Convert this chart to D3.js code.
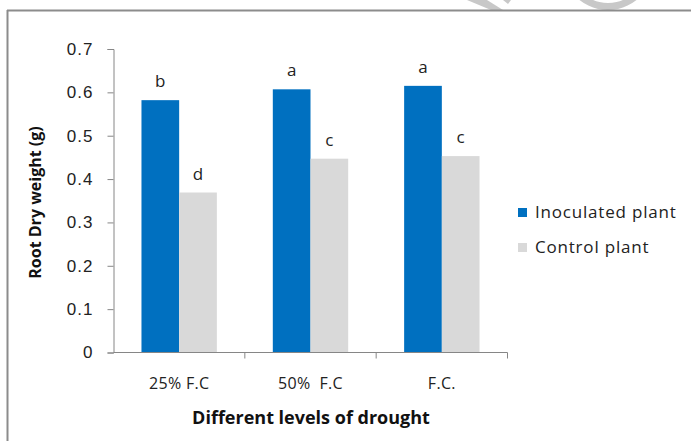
<!DOCTYPE html>
<html>
<head>
<meta charset="utf-8">
<script src="https://cdn.jsdelivr.net/npm/d3@7"></script>
<style>
  html, body { margin: 0; padding: 0; background: #fff; }
  svg { display: block; font-family: "Open Sans", "Liberation Sans", sans-serif; }
</style>
</head>
<body>
<svg id="chart" width="691" height="441"></svg>
<script>
// Root dry weight by drought level
const categories = ["25% F.C", "50%  F.C", "F.C."];
const seriesNames = ["Inoculated plant", "Control plant"];
const inoculated = [0.582, 0.607, 0.615];
const control = [0.369, 0.447, 0.453];
const inoculatedLetters = ["b", "a", "a"];
const controlLetters = ["d", "c", "c"];
const yTicks = [0, 0.1, 0.2, 0.3, 0.4, 0.5, 0.6, 0.7];
const colors = ["#0070C0", "#D9D9D9"];

const rows = categories.map((c, i) => ({
  cat: c,
  vals: [
    { s: seriesNames[0], v: inoculated[i], lab: inoculatedLetters[i] },
    { s: seriesNames[1], v: control[i], lab: controlLetters[i] }
  ]
}));

const svg = d3.select("#chart");
const axisColor = "#868686";

// faint background marks above the frame
const deco = svg.append("g").attr("fill", "#c8c8c8");
deco.append("path").attr("d", "M467,0 L487,0 L503,10 L491,10 Z");
deco.append("path").attr("d", "M503,0 L511,0 L508,4 Z");
deco.append("path")
  .attr("d", d3.arc()({ innerRadius: 38.5, outerRadius: 45.5, startAngle: Math.PI / 2 + 0.68, endAngle: Math.PI * 1.5 - 0.68 }))
  .attr("transform", "translate(608,-35.5)");

// frame
svg.append("line").attr("x1", 7).attr("x2", 691).attr("y1", 10.5).attr("y2", 10.5)
  .attr("stroke", "#8c8c8c").attr("stroke-width", 2);
svg.append("line").attr("x1", 7.5).attr("x2", 7.5).attr("y1", 10).attr("y2", 441)
  .attr("stroke", "#8c8c8c").attr("stroke-width", 2);

const y = d3.scaleLinear().domain([0, 0.7]).range([352.5, 49]);
const x0 = d3.scaleBand().domain(categories).range([113.5, 507.5])
  .paddingInner(0.426).paddingOuter(0.213);
const x1 = d3.scaleBand().domain(seriesNames).range([0, x0.bandwidth()]);

// y axis
const yAxis = svg.append("g").attr("transform", "translate(113.5,0)")
  .call(d3.axisLeft(y).tickValues(yTicks).tickSize(6).tickPadding(14)
    .tickFormat(d => d === 0 ? "0" : d3.format(".1f")(d)));
yAxis.select(".domain").attr("stroke", axisColor);
yAxis.selectAll(".tick line").attr("stroke", axisColor);
yAxis.selectAll("text").attr("font-size", 17).attr("letter-spacing", 1).attr("fill", "#222");

// bars
const groups = svg.append("g").selectAll("g").data(rows).join("g")
  .attr("transform", d => `translate(${x0(d.cat)},0)`);
groups.selectAll("rect").data(d => d.vals).join("rect")
  .attr("x", d => x1(d.s))
  .attr("y", d => y(d.v))
  .attr("width", x1.bandwidth())
  .attr("height", d => y(0) - y(d.v))
  .attr("fill", (d, i) => colors[i]);
groups.selectAll("text").data(d => d.vals).join("text")
  .attr("x", d => x1(d.s) + x1.bandwidth() / 2)
  .attr("y", d => y(d.v) - 13)
  .attr("text-anchor", "middle")
  .attr("font-size", 17)
  .attr("fill", "#222")
  .text(d => d.lab);

// x axis: baseline with ticks between categories
const xAxis = svg.append("g");
xAxis.append("line").attr("x1", 113.5).attr("x2", 507.5).attr("y1", y(0)).attr("y2", y(0))
  .attr("stroke", axisColor);
const step = x0.step();
const bounds = categories.map((c, i) => 113.5 + step * (i + 1));
xAxis.selectAll(".xt").data(bounds).join("line").attr("class", "xt")
  .attr("x1", d => d).attr("x2", d => d).attr("y1", y(0)).attr("y2", y(0) + 6)
  .attr("stroke", axisColor);
xAxis.selectAll(".xl").data(categories).join("text").attr("class", "xl")
  .attr("x", d => x0(d) + x0.bandwidth() / 2)
  .attr("y", 389)
  .attr("text-anchor", "middle")
  .attr("font-size", 16)
  .attr("letter-spacing", 0.3)
  .attr("fill", "#222")
  .style("white-space", "pre")
  .text(d => d);

// axis titles
svg.append("text")
  .attr("x", 311).attr("y", 424)
  .attr("text-anchor", "middle")
  .attr("font-size", 18).attr("font-weight", "bold").attr("fill", "#111")
  .text("Different levels of drought");
svg.append("text")
  .attr("transform", "translate(41,202.5) rotate(-90)")
  .attr("text-anchor", "middle")
  .attr("font-size", 16).attr("font-weight", "bold").attr("fill", "#111")
  .text("Root Dry weight (g)");

// legend
const legend = svg.append("g").selectAll("g").data(seriesNames).join("g")
  .attr("transform", (d, i) => `translate(518,${208 + i * 35})`);
legend.append("rect").attr("width", 9).attr("height", 9).attr("fill", (d, i) => colors[i]);
legend.append("text").attr("x", 17).attr("y", 9.5)
  .attr("font-size", 17).attr("letter-spacing", 0.8).attr("fill", "#222").text(d => d);
</script>
</body>
</html>
